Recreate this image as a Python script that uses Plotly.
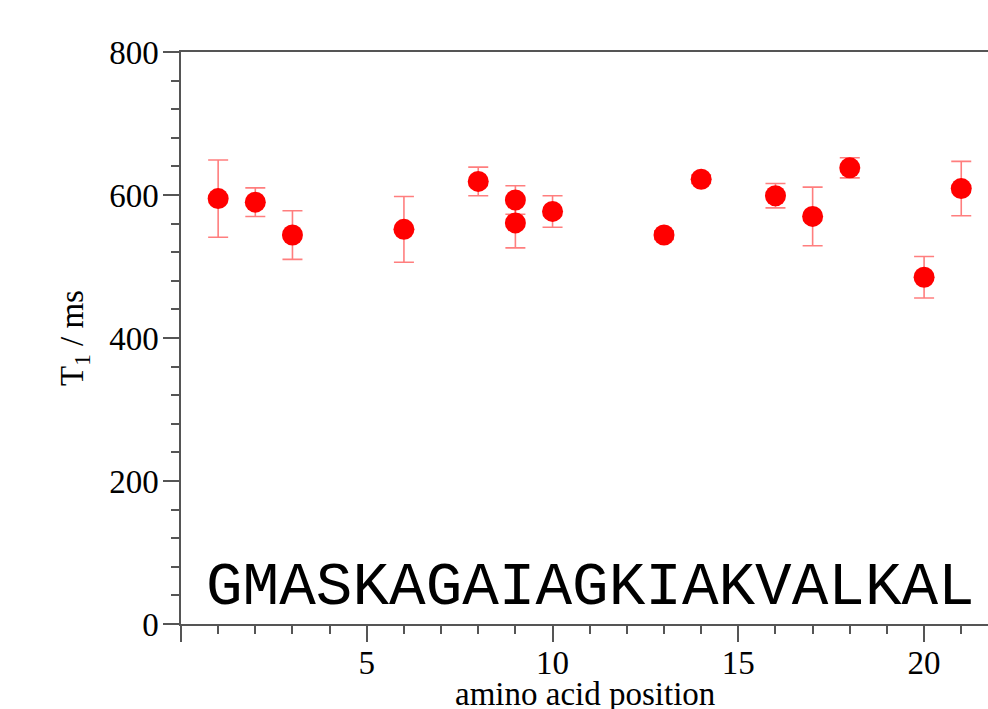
import plotly.graph_objects as go

positions = [1, 2, 3, 6, 8, 9, 9, 10, 13, 14, 16, 17, 18, 20, 21]
t1_values = [595, 590, 544, 552, 619, 593, 561, 577, 544, 622, 599, 570, 638, 485, 609]
t1_errors = [54, 20, 34, 46, 20, 20, 35, 22, 6, 6, 17, 41, 14, 29, 38]
sequence = "GMASKAGAIAGKIAKVALKAL"
x_tick_vals = [0, 5, 10, 15, 20]
x_tick_text = ["", "5", "10", "15", "20"]
y_tick_vals = [0, 200, 400, 600, 800]

axis_col = "#555555"
serif = "Liberation Serif, Times New Roman, serif"
fs = 33

fig = go.Figure()
fig.add_trace(go.Scatter(
    x=positions, y=t1_values, mode="markers",
    marker=dict(color="#ff0000", size=21, line=dict(width=0)),
    error_y=dict(type="data", array=t1_errors, visible=True,
                 color="rgba(255,40,40,0.6)", thickness=1.6, width=10),
    showlegend=False,
))

fig.update_layout(
    width=988, height=709,
    margin=dict(l=181, r=0, t=52, b=85),
    paper_bgcolor="white", plot_bgcolor="white",
    font=dict(family=serif, size=fs, color="black"),
    xaxis=dict(range=[0, 21.72], tickvals=x_tick_vals, ticktext=x_tick_text,
               ticks="outside", ticklen=16, tickwidth=1.5, tickcolor=axis_col,
               minor=dict(dtick=1, ticks="outside", ticklen=8, tickwidth=1.5, tickcolor=axis_col),
               showline=True, linecolor=axis_col, linewidth=1.5, mirror=True,
               showgrid=False, zeroline=False, ticklabelstandoff=-7,
               tickfont=dict(family=serif, size=fs, color="black")),
    yaxis=dict(range=[0, 800], tickvals=y_tick_vals,
               ticks="outside", ticklen=16, tickwidth=1.5, tickcolor=axis_col,
               minor=dict(dtick=40, ticks="outside", ticklen=8, tickwidth=1.5, tickcolor=axis_col),
               showline=True, linecolor=axis_col, linewidth=1.5,
               showgrid=False, zeroline=False, ticklabelstandoff=-2,
               tickfont=dict(family=serif, size=fs, color="black")),
)

fig.add_annotation(text=sequence, xref="x", yref="y", x=0.62, y=22,
                   xanchor="left", yanchor="bottom", yshift=-16, showarrow=False,
                   font=dict(family="Liberation Mono, Courier New, monospace", size=61, color="black"))
fig.add_annotation(text="amino acid position", xref="paper", yref="paper", x=0.5, y=0,
                   xanchor="center", yanchor="top", yshift=-50, showarrow=False,
                   font=dict(family=serif, size=fs, color="black"))
fig.add_annotation(text="T<sub>1</sub> / ms", xref="paper", yref="paper", x=0, y=0.5,
                   xanchor="center", yanchor="middle", xshift=-107, textangle=-90, showarrow=False,
                   font=dict(family=serif, size=fs, color="black"))

fig.write_html("out.html")
